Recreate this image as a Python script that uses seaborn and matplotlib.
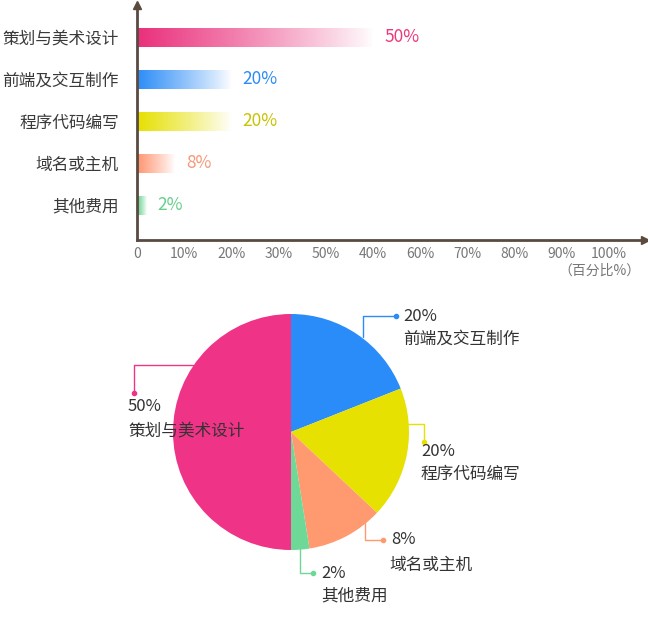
import numpy as np
import matplotlib
matplotlib.use("Agg")
import matplotlib.pyplot as plt
import matplotlib.colors as mcolors
import seaborn as sns

# 数据
categories = ["策划与美术设计", "前端及交互制作", "程序代码编写", "域名或主机", "其他费用"]
percent = [50, 20, 20, 8, 2]
# 饼图中各扇区实际画出的比例（从图上量得）
pie_share = [50, 19, 18, 10.5, 2.5]
bar_colors = ["#ea2f7b", "#2b8cf7", "#e6e000", "#ff9470", "#5fd08a"]
text_colors = ["#ec3a7c", "#2b8cf7", "#c8c300", "#f5997a", "#66cf8d"]
pie_colors = ["#ef3386", "#2a8cf8", "#e6e101", "#ff9a70", "#6ed897"]
tick_pos = [0, 10, 20, 30, 40, 50, 60, 70, 80, 90, 100]
tick_labels = ["0", "10%", "20%", "30%", "50%", "40%", "60%", "70%", "80%", "90%", "100%"]

sns.set_theme(style="white")
plt.rcParams["font.family"] = ["Noto Sans CJK SC", "DejaVu Sans"]

W, H = 648, 622
fig = plt.figure(figsize=(W / 100, H / 100), dpi=100)

# ==========================================
# 1. 横向条形图
# ==========================================
axis_col = "#5b4a40"
ax1 = fig.add_axes([137 / W, (H - 240) / H, (645 - 137) / W, (240 - 5) / H])
sns.barplot(x=percent, y=categories, hue=categories, palette=bar_colors,
            orient="h", width=0.45, legend=False, ax=ax1)

xlim = (0, 107.6)
ylim = (4.83, -0.77)
for patch, col in zip(ax1.patches, bar_colors):
    x0, y0 = patch.get_x(), patch.get_y()
    w, h = patch.get_width(), patch.get_height()
    rgba = np.zeros((1, 256, 4))
    rgba[0, :, :3] = mcolors.to_rgb(col)
    rgba[0, :, 3] = np.linspace(1, 0, 256) ** 0.9
    im = ax1.imshow(rgba, extent=[x0, x0 + w, y0 + h, y0], aspect="auto",
                    interpolation="bilinear", zorder=2)
    im.set_clip_path(patch)
    patch.set_facecolor("none")
    patch.set_edgecolor("none")

for i, (v, c) in enumerate(zip(percent, text_colors)):
    ax1.text(v + 2.4, i, f"{v}%", color=c, fontsize=12.5, va="center", ha="left")

ax1.set_xlim(*xlim)
ax1.set_ylim(*ylim)
ax1.set_xlabel("")
ax1.set_ylabel("")
ax1.set_xticks(tick_pos)
ax1.set_xticklabels(tick_labels)
ax1.tick_params(axis="x", direction="in", length=4, width=1.5, color=axis_col,
                labelcolor="#777777", labelsize=10, pad=5)
ax1.tick_params(axis="y", length=0, labelcolor="#3a3a3a", labelsize=12, pad=13)
for s in ["top", "right"]:
    ax1.spines[s].set_visible(False)
for s in ["left", "bottom"]:
    ax1.spines[s].set_color(axis_col)
    ax1.spines[s].set_linewidth(2)
ax1.plot(1, 0, ">", color=axis_col, markersize=6, transform=ax1.transAxes, clip_on=False)
ax1.plot(0, 1, "^", color=axis_col, markersize=6, transform=ax1.transAxes, clip_on=False)
fig.text(640 / W, 1 - 271 / H, "（百分比%）", color="#777777", fontsize=10,
         ha="right", va="center")

# ==========================================
# 2. 饼图
# ==========================================
R = 118
cx, cy = 291, 432
px0, px1, py0, py1 = 100, 600, 300, 618
ax2 = fig.add_axes([px0 / W, (H - py1) / H, (px1 - px0) / W, (py1 - py0) / H])
ax2.pie(pie_share, colors=pie_colors, startangle=-90, counterclock=False,
        radius=1, wedgeprops=dict(linewidth=0))
ax2.set_xlim(-(cx - px0) / R, (px1 - cx) / R)
ax2.set_ylim(-(py1 - cy) / R, (cy - py0) / R)
ax2.set_aspect("auto")
ax2.axis("off")

# 引导线布局：起点、拐点、圆点、文字位置（饼图半径单位）
leaders = [
    [(-0.831, 0.568), (-1.331, 0.568), (-1.331, 0.331), (-1.381, 0.212), (-1.381, 0.008)],
    [(0.610, 0.805), (0.610, 0.983), (0.890, 0.983), (0.949, 0.983), (0.949, 0.788)],
    [(0.992, 0.068), (1.127, 0.068), (1.127, -0.085), (1.102, -0.169), (1.094, -0.364)],
    [(0.627, -0.771), (0.627, -0.915), (0.780, -0.915), (0.847, -0.915), (0.830, -1.127)],
    [(0.076, -0.983), (0.076, -1.195), (0.186, -1.195), (0.254, -1.195), (0.254, -1.390)],
]
for (start, corner, dot, pct_xy, name_xy), name, v, col in zip(
        leaders, categories, percent, pie_colors):
    ax2.plot([start[0], corner[0], dot[0]], [start[1], corner[1], dot[1]],
             color=col, linewidth=1, clip_on=False)
    ax2.plot(*dot, "o", color=col, markersize=3, clip_on=False)
    ax2.text(*pct_xy, f"{v}%", color="#333333", fontsize=12, ha="left", va="center")
    ax2.text(*name_xy, name, color="#333333", fontsize=12, ha="left", va="center")

fig.savefig("out.png", dpi=100, facecolor="white")
